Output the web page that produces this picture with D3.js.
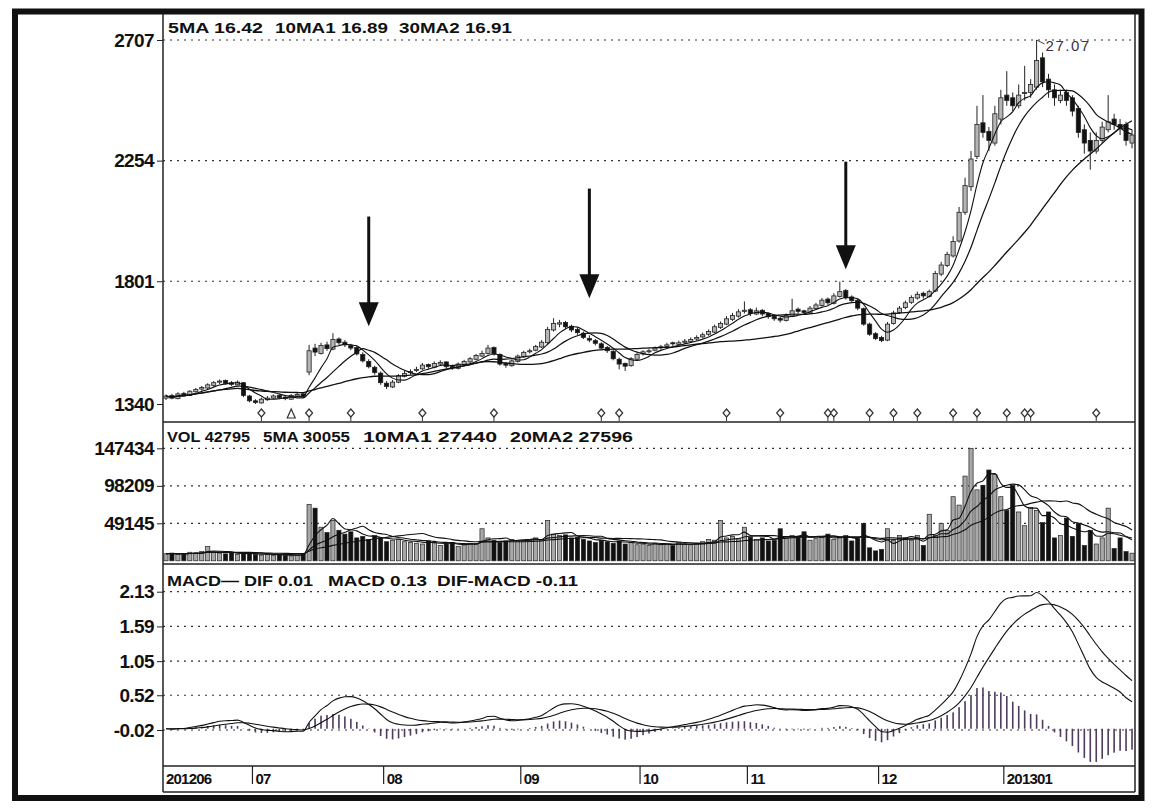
<!DOCTYPE html>
<html><head><meta charset="utf-8">
<script src="https://cdn.jsdelivr.net/npm/d3@7"></script>
<style>html,body{margin:0;padding:0;background:#fff;}svg{display:block;}</style>
</head><body>
<svg id="chart" width="1158" height="812"></svg>
<script>
// ---------------- DATA ----------------
const monthLabels = ["201206","07","08","09","10","11","12","201301"];
const monthDays   = [15,22,23,20,18,22,21,20,2];

const opens = [
13.62,13.72,13.60,13.80,13.72,13.86,13.96,14.00,14.10,14.22,
14.28,14.20,14.12,14.20,13.70,13.52,13.44,13.56,13.62,13.72,
13.66,13.58,13.70,13.78,14.60,15.50,15.30,15.62,15.46,15.84,
15.72,15.60,15.52,15.26,15.00,14.78,14.56,14.18,14.04,14.22,
14.44,14.58,14.66,14.72,14.88,14.78,14.90,14.98,14.82,14.74,
14.88,14.98,15.08,15.20,15.30,15.52,15.26,14.92,14.84,15.00,
15.18,15.36,15.42,15.54,15.70,16.18,16.40,16.46,16.32,16.20,
16.06,15.86,15.78,15.66,15.52,15.38,15.08,14.92,14.84,15.08,
15.28,15.36,15.42,15.52,15.56,15.70,15.64,15.72,15.74,15.84,
15.92,16.02,16.10,16.28,16.40,16.58,16.70,16.88,16.94,16.78,
16.92,16.80,16.70,16.62,16.54,16.70,16.96,16.90,16.82,16.98,
17.10,17.34,17.18,17.44,17.66,17.42,17.30,16.98,16.40,16.04,
15.90,15.80,16.42,16.84,17.02,17.22,17.38,17.56,17.44,17.64,
18.28,18.60,18.96,19.52,20.60,21.56,22.70,23.96,23.64,23.20,
24.10,25.00,24.90,24.60,25.06,25.10,25.30,26.40,25.60,25.20,
24.80,25.10,24.90,24.50,23.70,23.30,22.90,23.30,23.70,24.10,
23.90,23.90,23.20];
const highs = [
13.76,13.78,13.84,13.86,13.92,14.00,14.08,14.18,14.26,14.32,
14.32,14.26,14.28,14.22,13.74,13.58,13.64,13.70,13.76,13.76,
13.70,13.78,13.82,13.82,15.62,15.66,15.70,15.74,16.06,15.90,
15.80,15.66,15.58,15.34,15.08,14.84,14.62,14.26,14.30,14.52,
14.64,14.70,14.80,14.94,14.92,15.00,15.04,15.00,14.88,14.96,
15.06,15.16,15.28,15.40,15.62,15.56,15.30,14.98,15.08,15.26,
15.40,15.48,15.62,15.80,16.30,16.62,16.56,16.52,16.38,16.26,
16.12,15.98,15.84,15.72,15.58,15.42,15.14,14.96,15.16,15.32,
15.42,15.48,15.56,15.62,15.70,15.74,15.78,15.84,15.90,15.98,
16.08,16.20,16.38,16.50,16.70,16.82,16.96,17.25,17.00,17.02,
16.96,16.84,16.74,16.68,16.80,17.35,17.02,16.94,17.08,17.20,
17.38,17.40,17.56,18.00,17.72,17.48,17.34,17.02,16.46,16.10,
15.96,16.48,16.90,17.08,17.28,17.48,17.62,17.62,17.70,18.40,
18.74,19.12,19.70,20.80,21.90,22.90,24.60,25.00,23.80,24.60,
25.20,25.90,25.10,25.40,26.10,25.60,27.07,26.60,25.80,25.40,
25.20,25.20,25.00,24.60,23.90,23.60,23.60,24.00,25.00,24.30,
24.10,24.00,23.70];
const lows = [
13.55,13.58,13.58,13.68,13.70,13.82,13.90,13.96,14.06,14.14,
14.12,14.08,14.10,13.66,13.46,13.40,13.42,13.52,13.58,13.58,
13.54,13.56,13.66,13.62,14.48,15.20,15.26,15.40,15.42,15.62,
15.54,15.42,15.22,14.96,14.74,14.50,14.12,13.96,14.00,14.18,
14.40,14.50,14.60,14.68,14.72,14.74,14.86,14.72,14.68,14.70,
14.84,14.94,15.04,15.16,15.26,15.22,14.84,14.76,14.80,14.96,
15.14,15.30,15.38,15.50,15.66,16.12,16.28,16.22,16.10,16.00,
15.84,15.72,15.60,15.44,15.32,15.04,14.70,14.64,14.80,15.04,
15.22,15.30,15.38,15.44,15.50,15.58,15.60,15.66,15.70,15.78,
15.88,15.96,16.06,16.22,16.36,16.52,16.64,16.80,16.70,16.74,
16.70,16.60,16.52,16.46,16.50,16.66,16.80,16.76,16.78,16.94,
17.06,17.12,17.14,17.40,17.32,17.20,16.92,16.34,15.96,15.80,
15.72,15.76,16.38,16.78,16.96,17.16,17.32,17.36,17.40,17.60,
18.20,18.54,18.90,19.46,20.50,21.40,22.60,23.40,22.90,23.10,
23.90,24.60,24.40,24.50,24.80,24.90,25.20,25.30,24.90,24.60,
24.70,24.60,24.20,23.40,22.80,22.20,22.80,23.20,23.60,23.70,
23.50,23.10,23.00];
const closes = [
13.70,13.62,13.78,13.74,13.88,13.95,14.02,14.12,14.20,14.26,
14.18,14.14,14.22,13.72,13.52,13.46,13.58,13.62,13.70,13.64,
13.60,13.72,13.76,13.68,15.40,15.35,15.60,15.48,15.82,15.70,
15.62,15.50,15.28,15.02,14.80,14.58,14.20,14.06,14.22,14.46,
14.55,14.62,14.70,14.86,14.80,14.92,14.96,14.80,14.76,14.90,
15.00,15.10,15.22,15.30,15.50,15.28,14.90,14.86,15.02,15.20,
15.34,15.40,15.56,15.72,16.20,16.42,16.45,16.30,16.18,16.08,
15.90,15.80,15.68,15.50,15.40,15.10,14.90,14.82,15.10,15.26,
15.36,15.40,15.50,15.55,15.62,15.66,15.70,15.76,15.82,15.90,
16.00,16.12,16.30,16.42,16.60,16.72,16.86,16.92,16.80,16.90,
16.78,16.68,16.60,16.55,16.72,16.90,16.88,16.84,17.00,17.12,
17.30,17.20,17.46,17.62,17.40,17.28,17.00,16.40,16.02,15.86,
15.78,16.40,16.82,17.00,17.20,17.40,17.52,17.46,17.62,18.30,
18.62,19.02,19.50,20.60,21.60,22.60,23.90,23.60,23.30,24.30,
24.90,24.80,24.60,25.00,25.10,25.40,26.30,25.50,25.20,24.90,
25.00,24.80,24.40,23.60,23.20,22.90,23.30,23.80,24.00,23.90,
23.80,23.30,23.50];
const volumes = [
9200,10100,8300,9100,11200,10400,12100,18600,11300,10200,
9100,10300,8200,9400,10500,8300,7400,8200,7100,8300,
7000,6400,7200,9300,74000,69000,44000,37000,53000,40000,
35000,38000,30000,32000,28000,33000,30000,25000,27000,28000,
25000,24000,23000,22000,26000,24000,20000,22000,24000,19000,
21000,23000,22000,42000,30000,27000,24000,26000,28000,26000,
27000,28000,30000,28000,53000,35000,33000,34000,30000,31000,
28000,26000,24000,27000,25000,23000,26000,22000,24000,21000,
22000,20000,23000,21000,22000,20000,24000,22000,21000,23000,
25000,28000,27000,53000,30000,32000,29000,44000,31000,28000,
30000,26000,27000,42000,29000,33000,30000,38000,27000,29000,
31000,35000,28000,30000,33000,26000,29000,49000,17000,13000,
15000,42000,27000,33000,30000,27000,33000,20000,61000,33000,
49000,40000,84000,73000,111000,147434,93000,99000,119000,113000,
84000,66000,99000,64000,46000,70000,66000,50000,64000,30000,
33000,56000,32000,49000,20000,40000,22000,30000,69000,16000,
30000,12000,10000];

const priceTicks = [13.40, 18.01, 22.54, 27.07];
const volTicks   = [49145, 98209, 147434];
const macdTicks  = [-0.02, 0.52, 1.05, 1.59, 2.13];

const signalDays   = [16,24,31,43,55,73,76,94,103,111,112,118,122,126,132,136,141,144,145,156];
const triangleDays = [21];
const arrowDays  = [34, 71, 114];
const arrowTops  = [20.44, 21.49, 22.50];
const arrowTips  = [16.32, 17.37, 18.46];
const peakLabel  = "27.07";

const priceLegend = ["5MA 16.42", "10MA1 16.89", "30MA2 16.91"];
const volLegend   = ["VOL 42795", "5MA 30055", "10MA1 27440", "20MA2 27596"];
const macdLegend  = ["MACD\u2014 DIF 0.01", "MACD 0.13", "DIF-MACD -0.11"];

// ---------------- INDICATORS ----------------
const N = closes.length;
function ma(arr, n){ return arr.map((v,i)=>d3.mean(arr.slice(Math.max(0,i-n+1), i+1))); }
function ema(arr, n){ const k=2/(n+1); const out=[]; arr.forEach((v,i)=>out.push(i===0?v:out[i-1]+(v-out[i-1])*k)); return out; }
const ma5 = ma(closes,5), ma10 = ma(closes,10), ma30 = ma(closes,30);
const vma5 = ma(volumes,5), vma10 = ma(volumes,10), vma20 = ma(volumes,20);
const e12 = ema(closes,12), e26 = ema(closes,26);
const dif = e12.map((v,i)=>v-e26[i]);
const dea = ema(dif,9);
const HIST_K = 1;
const hist = dif.map((v,i)=>HIST_K*(v-dea[i]));

// ---------------- LAYOUT ----------------
const svg = d3.select("#chart");
const L = 163, R = 1135;
const font = "'Liberation Sans', Arial, sans-serif";

const x = d3.scaleBand().domain(d3.range(N)).range([L, R]).paddingInner(0.3).paddingOuter(0.15);
const bw = x.bandwidth();
const cx = i => x(i) + bw/2;

const yP = d3.scaleLinear().domain([13.40, 27.07]).range([404, 40]);
const yV = d3.scaleLinear().domain([0, 147434]).range([560.8, 448.3]);
const yM = d3.scaleLinear().domain([-0.02, 2.13]).range([730, 591.7]);

// outer border
svg.append("rect").attr("x",15).attr("y",11.5).attr("width",1126.5).attr("height",786.5)
  .attr("fill","none").attr("stroke","#111").attr("stroke-width",6);

// grids
function grid(scale, ticks){
  svg.append("g").selectAll("line").data(ticks).join("line")
    .attr("x1",L).attr("x2",R).attr("y1",d=>scale(d)).attr("y2",d=>scale(d))
    .attr("stroke","#333").attr("stroke-width",1.2).attr("stroke-dasharray","2,5");
}
grid(yP, priceTicks.slice(1));
grid(yV, volTicks);
grid(yM, macdTicks);

// left axes
function leftAxis(scale, ticks, fmt){
  const ax = d3.axisLeft(scale).tickValues(ticks).tickFormat(fmt).tickSize(6).tickPadding(3);
  const g = svg.append("g").attr("transform",`translate(${L},0)`).call(ax);
  g.select(".domain").remove();
  g.selectAll(".tick line").attr("stroke","#222");
  g.selectAll("text").attr("font-family",font).attr("font-weight","bold").attr("font-size",19)
    .attr("fill","#111").attr("letter-spacing",-0.6);
}
leftAxis(yP, priceTicks, d=>String(Math.round(d*100)));
leftAxis(yV, volTicks, d=>String(d));
leftAxis(yM, macdTicks, d=>d.toFixed(2));

// frame lines
svg.append("line").attr("x1",L).attr("x2",L).attr("y1",14).attr("y2",792).attr("stroke","#222").attr("stroke-width",1.5);
svg.append("line").attr("x1",R).attr("x2",R).attr("y1",14).attr("y2",792).attr("stroke","#222").attr("stroke-width",1.5);
[422, 564, 766, 792].forEach(yy=>svg.append("line").attr("x1",L).attr("x2",R).attr("y1",yy).attr("y2",yy)
  .attr("stroke","#222").attr("stroke-width",1.5));

// ---------------- PRICE ----------------
const up = i => closes[i] >= opens[i];
const gC = svg.append("g");
gC.selectAll("line").data(d3.range(N)).join("line")
  .attr("x1",cx).attr("x2",cx).attr("y1",i=>yP(highs[i])).attr("y2",i=>yP(lows[i]))
  .attr("stroke","#222").attr("stroke-width",1);
gC.selectAll("rect").data(d3.range(N)).join("rect")
  .attr("x",i=>x(i)).attr("width",bw)
  .attr("y",i=>yP(Math.max(opens[i],closes[i])))
  .attr("height",i=>Math.max(1, Math.abs(yP(opens[i])-yP(closes[i]))))
  .attr("fill",i=>up(i)?"#b5b5b5":"#111").attr("stroke","#222").attr("stroke-width",0.8);

const lineP = arr => d3.line().x((d,i)=>cx(i)).y(d=>yP(d)).curve(d3.curveMonotoneX)(arr);
[[ma5,1.1],[ma10,1.2],[ma30,1.3]].forEach(([a,w])=>svg.append("path").attr("d",lineP(a))
  .attr("fill","none").attr("stroke","#111").attr("stroke-width",w));

// peak label
const pk = highs.indexOf(d3.max(highs));
svg.append("line").attr("x1",cx(pk)).attr("y1",yP(highs[pk])).attr("x2",cx(pk)+8).attr("y2",yP(highs[pk])+4)
  .attr("stroke","#444").attr("stroke-width",1);
svg.append("text").attr("x",cx(pk)+9).attr("y",yP(highs[pk])+11).text(peakLabel)
  .attr("font-family",font).attr("font-size",15).attr("fill","#3a3340").attr("letter-spacing",1.5);

// arrows
arrowDays.forEach((d,k)=>{
  const ax = cx(d), y0 = yP(arrowTops[k]), y1 = yP(arrowTips[k]);
  svg.append("line").attr("x1",ax).attr("x2",ax).attr("y1",y0).attr("y2",y1-20)
    .attr("stroke","#111").attr("stroke-width",3);
  svg.append("path").attr("d",`M${ax-10},${y1-24}L${ax+10},${y1-24}L${ax},${y1}Z`).attr("fill","#111");
});

// signal markers
const gS = svg.append("g");
signalDays.forEach(d=>{
  const sx = cx(d);
  gS.append("path").attr("d",`M${sx},${409}L${sx+3.5},${413}L${sx},${417}L${sx-3.5},${413}Z`)
    .attr("fill","#fff").attr("stroke","#333").attr("stroke-width",1.2);
  gS.append("line").attr("x1",sx).attr("x2",sx).attr("y1",417).attr("y2",421).attr("stroke","#333");
});
triangleDays.forEach(d=>{
  const sx = cx(d);
  gS.append("path").attr("d",`M${sx},${409}L${sx+4},${418}L${sx-4},${418}Z`)
    .attr("fill","#fff").attr("stroke","#333").attr("stroke-width",1.2);
});

// ---------------- VOLUME ----------------
svg.append("g").selectAll("rect").data(d3.range(N)).join("rect")
  .attr("x",i=>x(i)).attr("width",bw).attr("y",i=>yV(volumes[i]))
  .attr("height",i=>yV(0)-yV(volumes[i]))
  .attr("fill",i=>up(i)?"#a8a8a8":"#111").attr("stroke","#222").attr("stroke-width",0.7);
const lineV = arr => d3.line().x((d,i)=>cx(i)).y(d=>yV(d)).curve(d3.curveMonotoneX)(arr);
[vma5,vma10,vma20].forEach(a=>svg.append("path").attr("d",lineV(a))
  .attr("fill","none").attr("stroke","#111").attr("stroke-width",1.1));

// ---------------- MACD ----------------
svg.append("g").selectAll("rect").data(d3.range(N)).join("rect")
  .attr("x",i=>cx(i)-0.8).attr("width",1.6)
  .attr("y",i=>Math.min(yM(0),yM(hist[i])))
  .attr("height",i=>Math.abs(yM(hist[i])-yM(0)))
  .attr("fill","#4e3b5e");
const lineM = arr => d3.line().x((d,i)=>cx(i)).y(d=>yM(d)).curve(d3.curveMonotoneX)(arr);
[dif,dea].forEach(a=>svg.append("path").attr("d",lineM(a))
  .attr("fill","none").attr("stroke","#111").attr("stroke-width",1.1));

// ---------------- LEGENDS ----------------
function legend(items, xs, ws, base, size){
  items.forEach((t,k)=>svg.append("text").attr("x",xs[k]).attr("y",base).text(t)
    .attr("font-family",font).attr("font-weight","bold").attr("font-size",size).attr("fill","#111")
    .attr("textLength",ws[k]).attr("lengthAdjust","spacingAndGlyphs"));
}
legend(priceLegend, [168,275,399], [95,113,113], 33, 15);
legend(volLegend, [167,263,363,510], [83,87,134,123], 442, 15);
legend(macdLegend, [167,328,437], [146,99,141], 586, 15);

// ---------------- X AXIS (months) ----------------
let start = 0;
const monthStarts = monthDays.map(d=>{ const s = start; start += d; return s; });
monthLabels.forEach((lab,k)=>{
  const s = monthStarts[k];
  const mx = k===0 ? L : x(s) - x.step()*x.paddingInner()/2;
  if(k>0) svg.append("line").attr("x1",mx).attr("x2",mx).attr("y1",766).attr("y2",784).attr("stroke","#222").attr("stroke-width",1.2);
  svg.append("text").attr("x",mx+3).attr("y",784).text(lab)
    .attr("font-family",font).attr("font-weight","bold").attr("font-size",15).attr("fill","#111")
    .attr("letter-spacing",-0.8);
});
</script>
</body></html>
